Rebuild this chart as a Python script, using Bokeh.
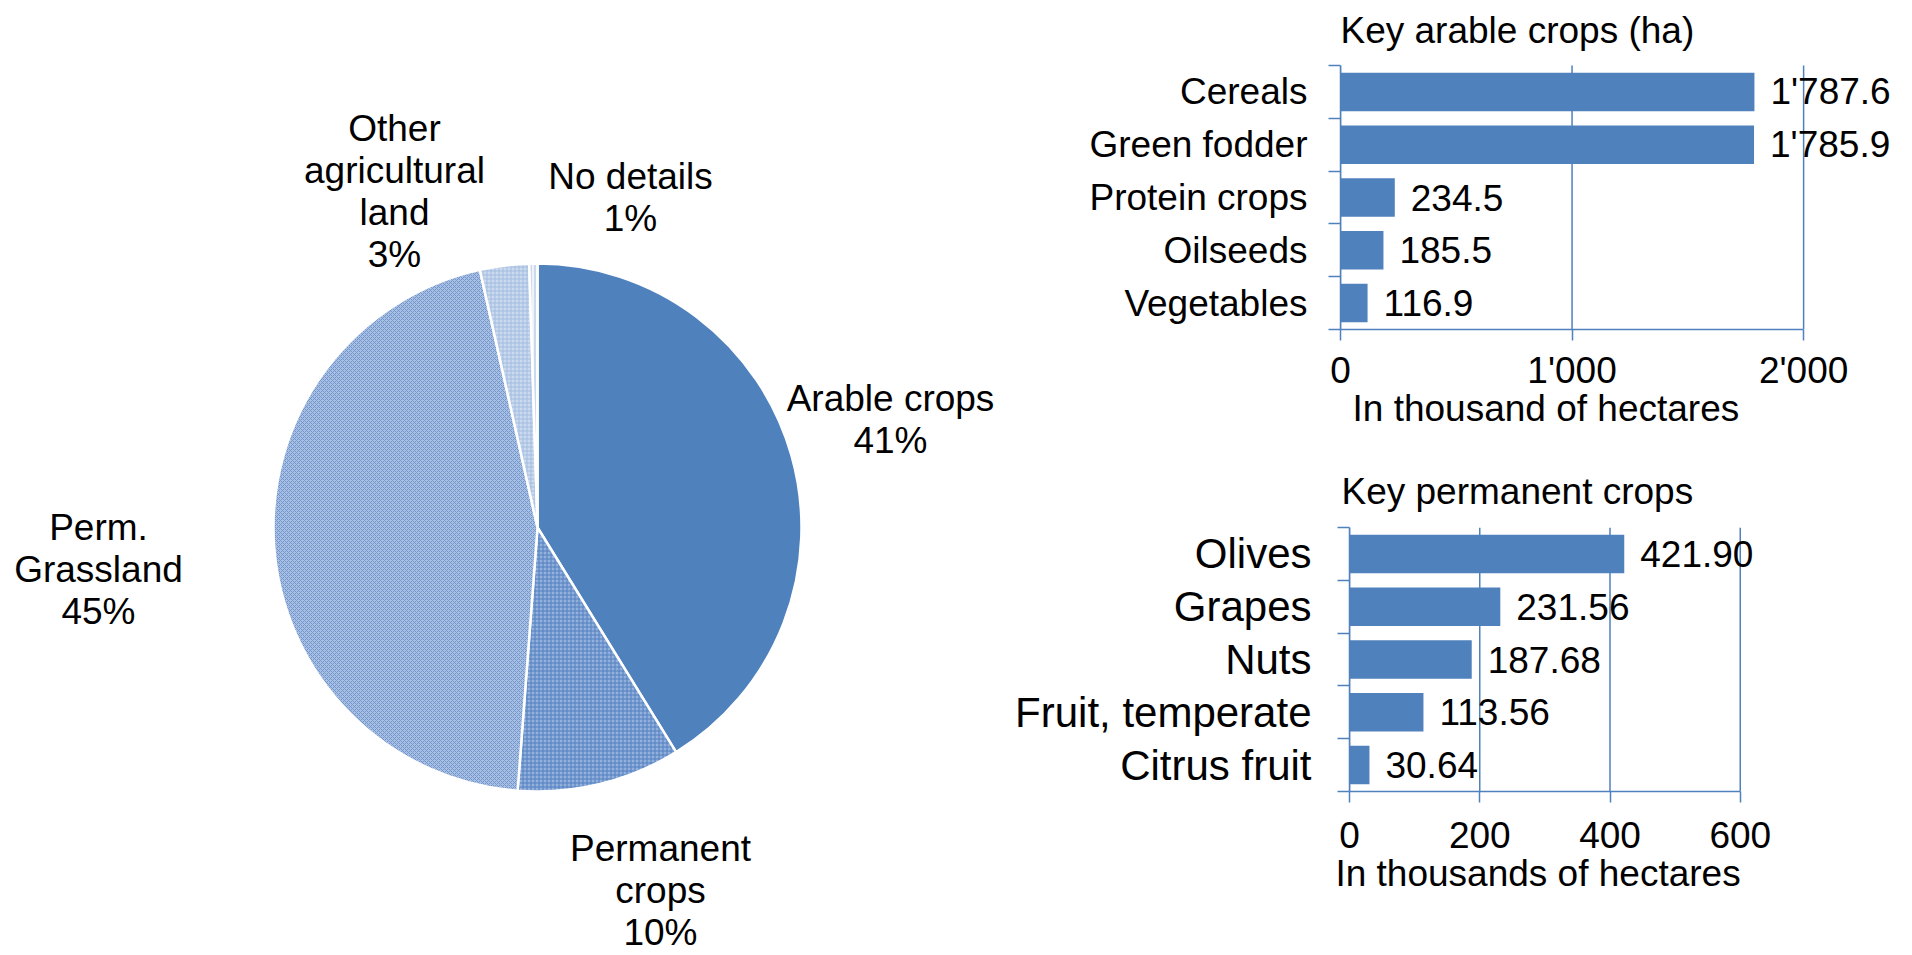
import math
from bokeh.plotting import figure
from bokeh.models import ColumnDataSource, FixedTicker, LabelSet, Range1d
from bokeh.layouts import row, column
from bokeh.embed import file_html
from bokeh.resources import INLINE
from bokeh.core.properties import value

# ---------------- data ----------------
land_use = ["Arable crops", "Permanent\ncrops", "Perm.\nGrassland",
            "Other\nagricultural\nland", "No details"]
land_share = [41.2, 10.0, 45.3, 3.0, 0.5]
land_pct = ["41%", "10%", "45%", "3%", "1%"]

arable_crops = ["Cereals", "Green fodder", "Protein crops", "Oilseeds", "Vegetables"]
arable_area = [1787.6, 1785.9, 234.5, 185.5, 116.9]
arable_ticks = [0, 1000, 2000]

perm_crops = ["Olives", "Grapes", "Nuts", "Fruit, temperate", "Citrus fruit"]
perm_area = [421.90, 231.56, 187.68, 113.56, 30.64]
perm_ticks = [0, 200, 400, 600]

# ---------------- styles ----------------
FNAME = "Liberation Sans"
FONT = value(FNAME)
BLUE = "#4F81BD"
NBSP = "\u00a0"
slice_fill = ["#4F81BD", "#93AFDB", "#A9C0E2", "#CCDAEE", "#EEF3FA"]
slice_hatch = [None, "cross", "diagonal_cross", "cross", "vertical_line"]
slice_hatch_color = ["#4F81BD", "#4F7FC0", "#7096CD", "#A3BBE0", "#A9BFE0"]
# label block centre offsets from pie centre (px), Excel best-fit placement
pie_label_offsets = [(353, 108), (123, -363), (-439, -42), (-143, 336), (93, 330)]

# ---------------- pie ----------------
PW, PH = 1010, 955
pie = figure(width=PW, height=PH, x_range=Range1d(0, PW), y_range=Range1d(0, PH),
             output_backend="svg", toolbar_location=None,
             min_border=0, outline_line_color=None)
pie.axis.visible = False
pie.grid.visible = False
cx, cy, R = 537, 428, 264
total = sum(land_share)
starts, ends = [], []
acc = 0.0
for s in land_share:
    starts.append(math.pi / 2 - acc / total * 2 * math.pi)
    acc += s
    ends.append(math.pi / 2 - acc / total * 2 * math.pi)
for i in range(len(land_share)):
    kw = {}
    if slice_hatch[i]:
        kw = dict(hatch_pattern=slice_hatch[i], hatch_color=slice_hatch_color[i],
                  hatch_scale=4, hatch_weight=1)
    pie.wedge(x=cx, y=cy, radius=R, start_angle=starts[i], end_angle=ends[i],
              direction="clock", fill_color=slice_fill[i], line_color="white",
              line_width=2.5, **kw)
lab_src = ColumnDataSource(dict(
    x=[cx + o[0] for o in pie_label_offsets],
    y=[cy + o[1] for o in pie_label_offsets],
    t=[f"{n}\n{p}" for n, p in zip(land_use, land_pct)]))
pie.text(x="x", y="y", text="t", source=lab_src, text_font=FONT,
         text_font_size="37px", text_align="center", text_baseline="middle",
         text_line_height=1.02, text_color="black")

BAND = 52.8  # px per category band


# ---------------- bar charts ----------------
def bar_chart(cats, vals, labels, x_end, ticks, tick_labels, title, title_offset,
              title_standoff, title_in_frame, xlabel, width, height, bl, br, bt, bb,
              cat_size, cat_standoff, tick_standoff, xlabel_standoff):
    n = len(cats)
    pos = [n - 0.5 - i for i in range(n)]
    src = ColumnDataSource(dict(y=pos, v=vals, lab=labels))
    y_end = n + (bt / BAND if title_in_frame else 0)
    p = figure(width=width, height=height, x_range=Range1d(0, x_end),
               y_range=Range1d(0, y_end), output_backend="svg",
               toolbar_location=None,
               min_border_left=bl, min_border_right=br,
               min_border_top=0 if title_in_frame else bt,
               min_border_bottom=bb, outline_line_color=None)
    # grid lines, limited to the category area
    p.xgrid.visible = False
    p.ygrid.visible = False
    p.segment(x0=ticks, y0=[0] * len(ticks), x1=ticks, y1=[n] * len(ticks),
              line_color=BLUE, line_width=1.5)
    p.hbar(y="y", left=0, right="v", height=0.73, source=src,
           fill_color=BLUE, line_color=None)
    p.add_layout(LabelSet(x="v", y="y", text="lab", source=src, x_offset=16,
                          text_baseline="middle", text_font=FONT,
                          text_font_size="37px", text_color="black"))
    # x axis
    xa = p.xaxis[0]
    xa.ticker = FixedTicker(ticks=ticks, minor_ticks=[])
    xa.major_label_overrides = {t: l for t, l in zip(ticks, tick_labels)}
    xa.bounds = (ticks[0], ticks[-1])
    xa.axis_line_color = BLUE
    xa.axis_line_width = 1.5
    xa.major_tick_line_color = BLUE
    xa.major_tick_line_width = 1.5
    xa.major_tick_in = 0
    xa.major_tick_out = 11
    xa.major_label_standoff = tick_standoff
    xa.major_label_text_font = FNAME
    xa.major_label_text_font_size = "37px"
    xa.major_label_text_color = "black"
    xa.axis_label = xlabel
    xa.axis_label_standoff = xlabel_standoff
    xa.axis_label_text_font = FNAME
    xa.axis_label_text_font_size = "37px"
    xa.axis_label_text_font_style = "normal"
    xa.axis_label_text_color = "black"
    # y axis (category bands, ticks at band borders)
    ya = p.yaxis[0]
    ya.ticker = FixedTicker(ticks=pos, minor_ticks=list(range(n + 1)))
    ya.major_label_overrides = {float(y): c for y, c in zip(pos, cats)}
    ya.bounds = (0, n)
    ya.axis_line_color = BLUE
    ya.axis_line_width = 1.5
    ya.major_tick_line_color = None
    ya.major_tick_out = 0
    ya.major_tick_in = 0
    ya.minor_tick_line_color = BLUE
    ya.minor_tick_line_width = 1.5
    ya.minor_tick_out = 12
    ya.minor_tick_in = 0
    ya.major_label_standoff = cat_standoff
    ya.major_label_text_font = FNAME
    ya.major_label_text_font_size = cat_size
    ya.major_label_text_color = "black"
    # title
    if title_in_frame:
        p.title.text = ""
        p.text(x=[0], y=[n + title_standoff / BAND], text=[title],
               x_offset=title_offset, text_font=FONT, text_font_size="37px",
               text_align="left", text_baseline="alphabetic", text_color="black")
    else:
        p.title.text = title
        p.title.align = "left"
        p.title.vertical_align = "top"
        p.title.offset = title_offset
        p.title.text_font = FNAME
        p.title.text_font_size = "37px"
        p.title.text_font_style = "normal"
        p.title.text_color = "black"
        p.title.standoff = title_standoff
    return p


def fmt_thousands(v, d):
    return f"{v:,.{d}f}".replace(",", "'")


# trailing no-break spaces shift the centred axis title left, as in the original
bar1 = bar_chart(arable_crops, arable_area, [fmt_thousands(v, 1) for v in arable_area],
                 2440, arable_ticks, [fmt_thousands(t, 0) for t in arable_ticks],
                 "Key arable crops (ha)", 0, 35, True,
                 "In thousand of hectares" + NBSP * 15,
                 902, 455, 330, 7, 65, 126, "37px", 21, 9, -6)
bar2 = bar_chart(perm_crops, perm_area, [f"{v:.2f}" for v in perm_area],
                 800, perm_ticks, [str(t) for t in perm_ticks],
                 "Key permanent crops", -8, 27, False,
                 "In thousands of hectares" + NBSP * 14,
                 902, 500, 339, 42, 72, 164, "42px", 26, 19, 2)

layout = row(pie, column(row(bar1), row(bar2), spacing=0), spacing=0)
open("out.html", "w").write(file_html(layout, INLINE))
